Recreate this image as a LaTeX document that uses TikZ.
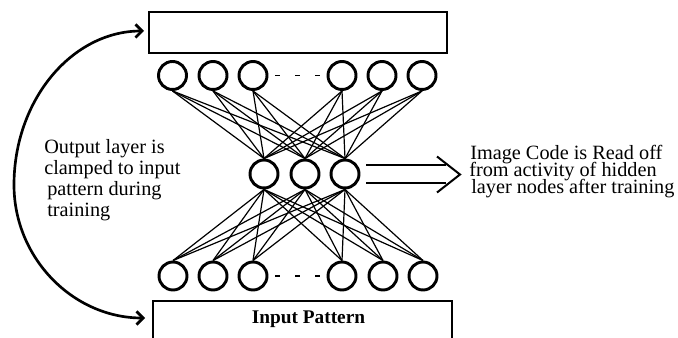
\documentclass[tikz,border=0pt]{standalone}
\usepackage{fontspec}
\setmainfont{Liberation Serif}
\usetikzlibrary{arrows.meta}
\begin{document}
\begin{tikzpicture}[x=0.75pt,y=-0.75pt,
  unit/.style={circle,draw,line width=2.2pt,minimum size=21pt,inner sep=0pt},
  layerbox/.style={draw,line width=1.5pt,inner sep=0pt},
  link/.style={line width=0.9pt},
  gap/.style={line width=1.3pt,dash pattern=on 3.75pt off 11.25pt},
  caption/.style={font=\fontsize{15.2}{12.75}\selectfont,inner sep=0pt,anchor=base west},
  bigarrow/.style={line width=1.5pt,line join=miter},
  feedback/.style={line width=2pt,{Straight Barb[length=5pt,width=10pt]}-{Straight Barb[length=5pt,width=10pt]}}
]
\useasboundingbox (0,0) rectangle (678,338);
\clip (0,0) rectangle (678,338);

% output layer box and input pattern box
\node[layerbox,minimum width=223.5pt,minimum height=30.75pt] (outbox) at (298,32.5) {};
\node[layerbox,minimum width=224.25pt,minimum height=45pt,anchor=north] (inbox) at (302.5,300) {};
\node[font=\bfseries\fontsize{14.5}{17}\selectfont,anchor=base,inner sep=0pt] (inlabel) at (308.5,323) {Input Pattern};

% units of the three layers
\foreach \n/\x in {1/172.5,2/213,3/253,4/342,5/382,6/422}
  \node[unit] (o\n) at (\x,75.5) {};
\foreach \n/\x in {1/264,2/305,3/345}
  \node[unit] (h\n) at (\x,174) {};
\foreach \n/\x in {1/173,2/213,3/253,4/342,5/383,6/423}
  \node[unit] (i\n) at (\x,276) {};

% elided units
\draw[gap] ([xshift=5.25pt]o3.east) -- (o4.west);
\draw[gap] ([xshift=5.25pt]i3.east) -- (i4.west);

% full connections between layers
\foreach \a in {1,...,6}
  \foreach \b in {1,2,3} {
    \draw[link] (o\a.south) -- (h\b.north);
    \draw[link] (h\b.south) -- (i\a.north);
  }

% hollow arrow leaving the hidden layer
\coordinate (codetip) at (460,174.5);
\draw[bigarrow] ([xshift=4.5pt,yshift=6.4pt]h3.east) -- ++(80,0);
\draw[bigarrow] ([xshift=4.5pt,yshift=-6.4pt]h3.east) -- ++(80,0);
\draw[bigarrow] (codetip) ++(-23,-18) -- (codetip) -- ++(-23,18);

% clamping arrow from input to output
\coordinate (topin) at (144,31);
\coordinate (bend) at (14,185);
\coordinate (botin) at (145,318);
\draw[feedback] (topin) .. controls (72,31) and (14,100) .. (bend)
  .. controls (14,258) and (73,318) .. (botin);

% annotations
\node[caption] (note1) at (44,154) {Output layer is};
\node[caption] (note2) at (44,175) {clamped to input};
\node[caption] (note3) at (47,196) {pattern during};
\node[caption] (note4) at (47,217) {training};

\node[caption] (code1) at (470,160) {Image Code is Read off};
\node[caption] (code2) at (469,177) {from activity of hidden};
\node[caption] (code3) at (471,194) {layer nodes after training};
\end{tikzpicture}
\end{document}
